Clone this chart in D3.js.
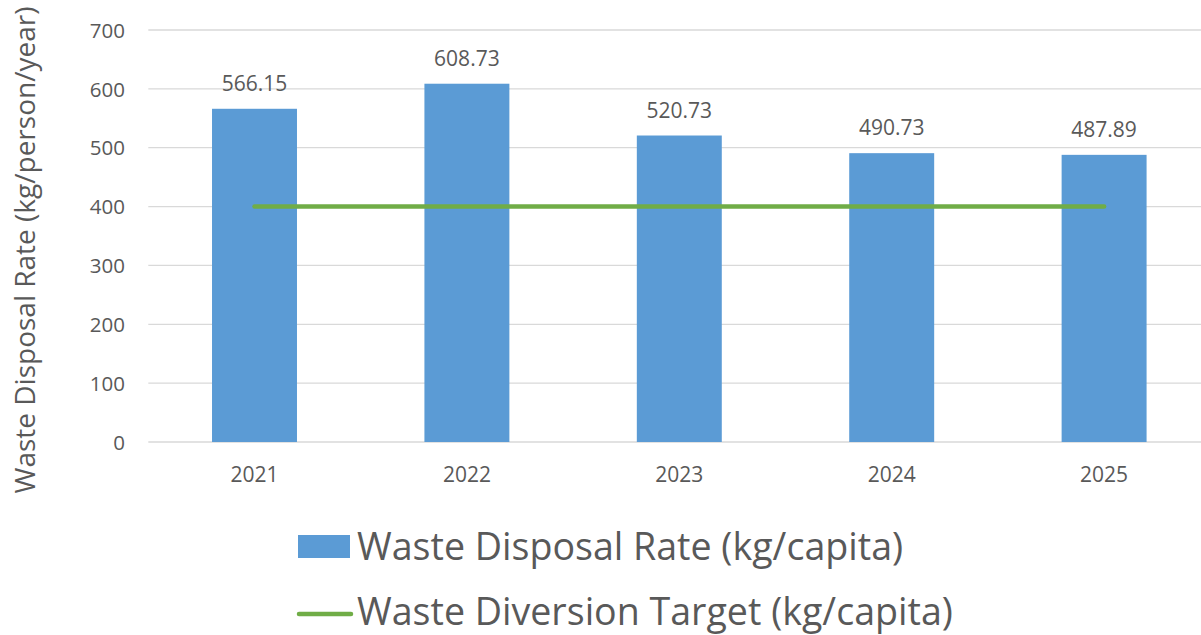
<!DOCTYPE html>
<html><head><meta charset="utf-8">
<script src="https://cdn.jsdelivr.net/npm/d3@7"></script>
<style>body{margin:0;background:#fff}svg{display:block}text{font-family:"Open Sans",sans-serif;fill:#595959}</style>
</head><body>
<svg id="c" width="1201" height="635"></svg>
<script>
const categories = ["2021","2022","2023","2024","2025"];
const disposalRate = [566.15, 608.73, 520.73, 490.73, 487.89];
const diversionTarget = [400, 400, 400, 400, 400];
const yTicks = [0,100,200,300,400,500,600,700];
const seriesNames = ["Waste Disposal Rate (kg/capita)", "Waste Diversion Target (kg/capita)"];

const svg = d3.select("#c");
const plot = {left:148.3, right:1210.3, top:30, bottom:442};
const x = d3.scaleBand().domain(categories).range([plot.left, plot.right]).paddingInner(0.6).paddingOuter(0.3);
const y = d3.scaleLinear().domain([0,700]).range([plot.bottom, plot.top]);

// gridlines
svg.append("g").selectAll("line").data(yTicks).join("line")
  .attr("x1", plot.left).attr("x2", 1201)
  .attr("y1", d=>y(d)).attr("y2", d=>y(d))
  .attr("stroke", "#d9d9d9").attr("stroke-width", 1.3);

// y axis labels
const yAxis = d3.axisLeft(y).tickValues(yTicks).tickSize(0).tickPadding(0);
const ya = svg.append("g").attr("transform", `translate(125,0)`).call(yAxis);
ya.select(".domain").remove();
ya.selectAll("text").style("font-size","20.5px").attr("fill","#595959").attr("dy","0.35em");

// x axis labels
const xAxis = d3.axisBottom(x).tickSize(0).tickPadding(0);
const xa = svg.append("g").attr("transform", `translate(0,${plot.bottom})`).call(xAxis);
xa.select(".domain").remove();
xa.selectAll("text").style("font-size","21px").attr("fill","#595959").attr("y", 33).attr("dy","0.35em");

// bars
svg.append("g").selectAll("rect").data(disposalRate).join("rect")
  .attr("x", (d,i)=>x(categories[i])).attr("width", x.bandwidth())
  .attr("y", d=>y(d)).attr("height", d=>y(0)-y(d))
  .attr("fill", "#5b9bd5");

// data labels
svg.append("g").selectAll("text").data(disposalRate).join("text")
  .attr("x", (d,i)=>x(categories[i]) + x.bandwidth()/2)
  .attr("y", d=>y(d) - 18)
  .attr("text-anchor","middle").style("font-size","21px")
  .text(d=>d.toFixed(2));

// target line
const line = d3.line().x((d,i)=>x(categories[i]) + x.bandwidth()/2).y(d=>y(d));
svg.append("path").datum(diversionTarget).attr("d", line)
  .attr("fill","none").attr("stroke","#70ad47").attr("stroke-width",4.5).attr("stroke-linecap","round");

// y title
svg.append("text").attr("transform","translate(35,250) rotate(-90)")
  .attr("text-anchor","middle").style("font-size","28px")
  .text("Waste Disposal Rate (kg/person/year)");

// legend
const lg = svg.append("g");
lg.append("rect").attr("x",298).attr("y",535).attr("width",52).attr("height",23).attr("fill","#5b9bd5");
lg.append("text").attr("x",357).attr("y",547).attr("dy","0.35em").style("font-size","37.6px").text(seriesNames[0]);
lg.append("line").attr("x1",299).attr("x2",351).attr("y1",614).attr("y2",614)
  .attr("stroke","#70ad47").attr("stroke-width",4.5).attr("stroke-linecap","round");
lg.append("text").attr("x",357).attr("y",612).attr("dy","0.35em").style("font-size","37.6px").text(seriesNames[1]);
</script>
</body></html>
